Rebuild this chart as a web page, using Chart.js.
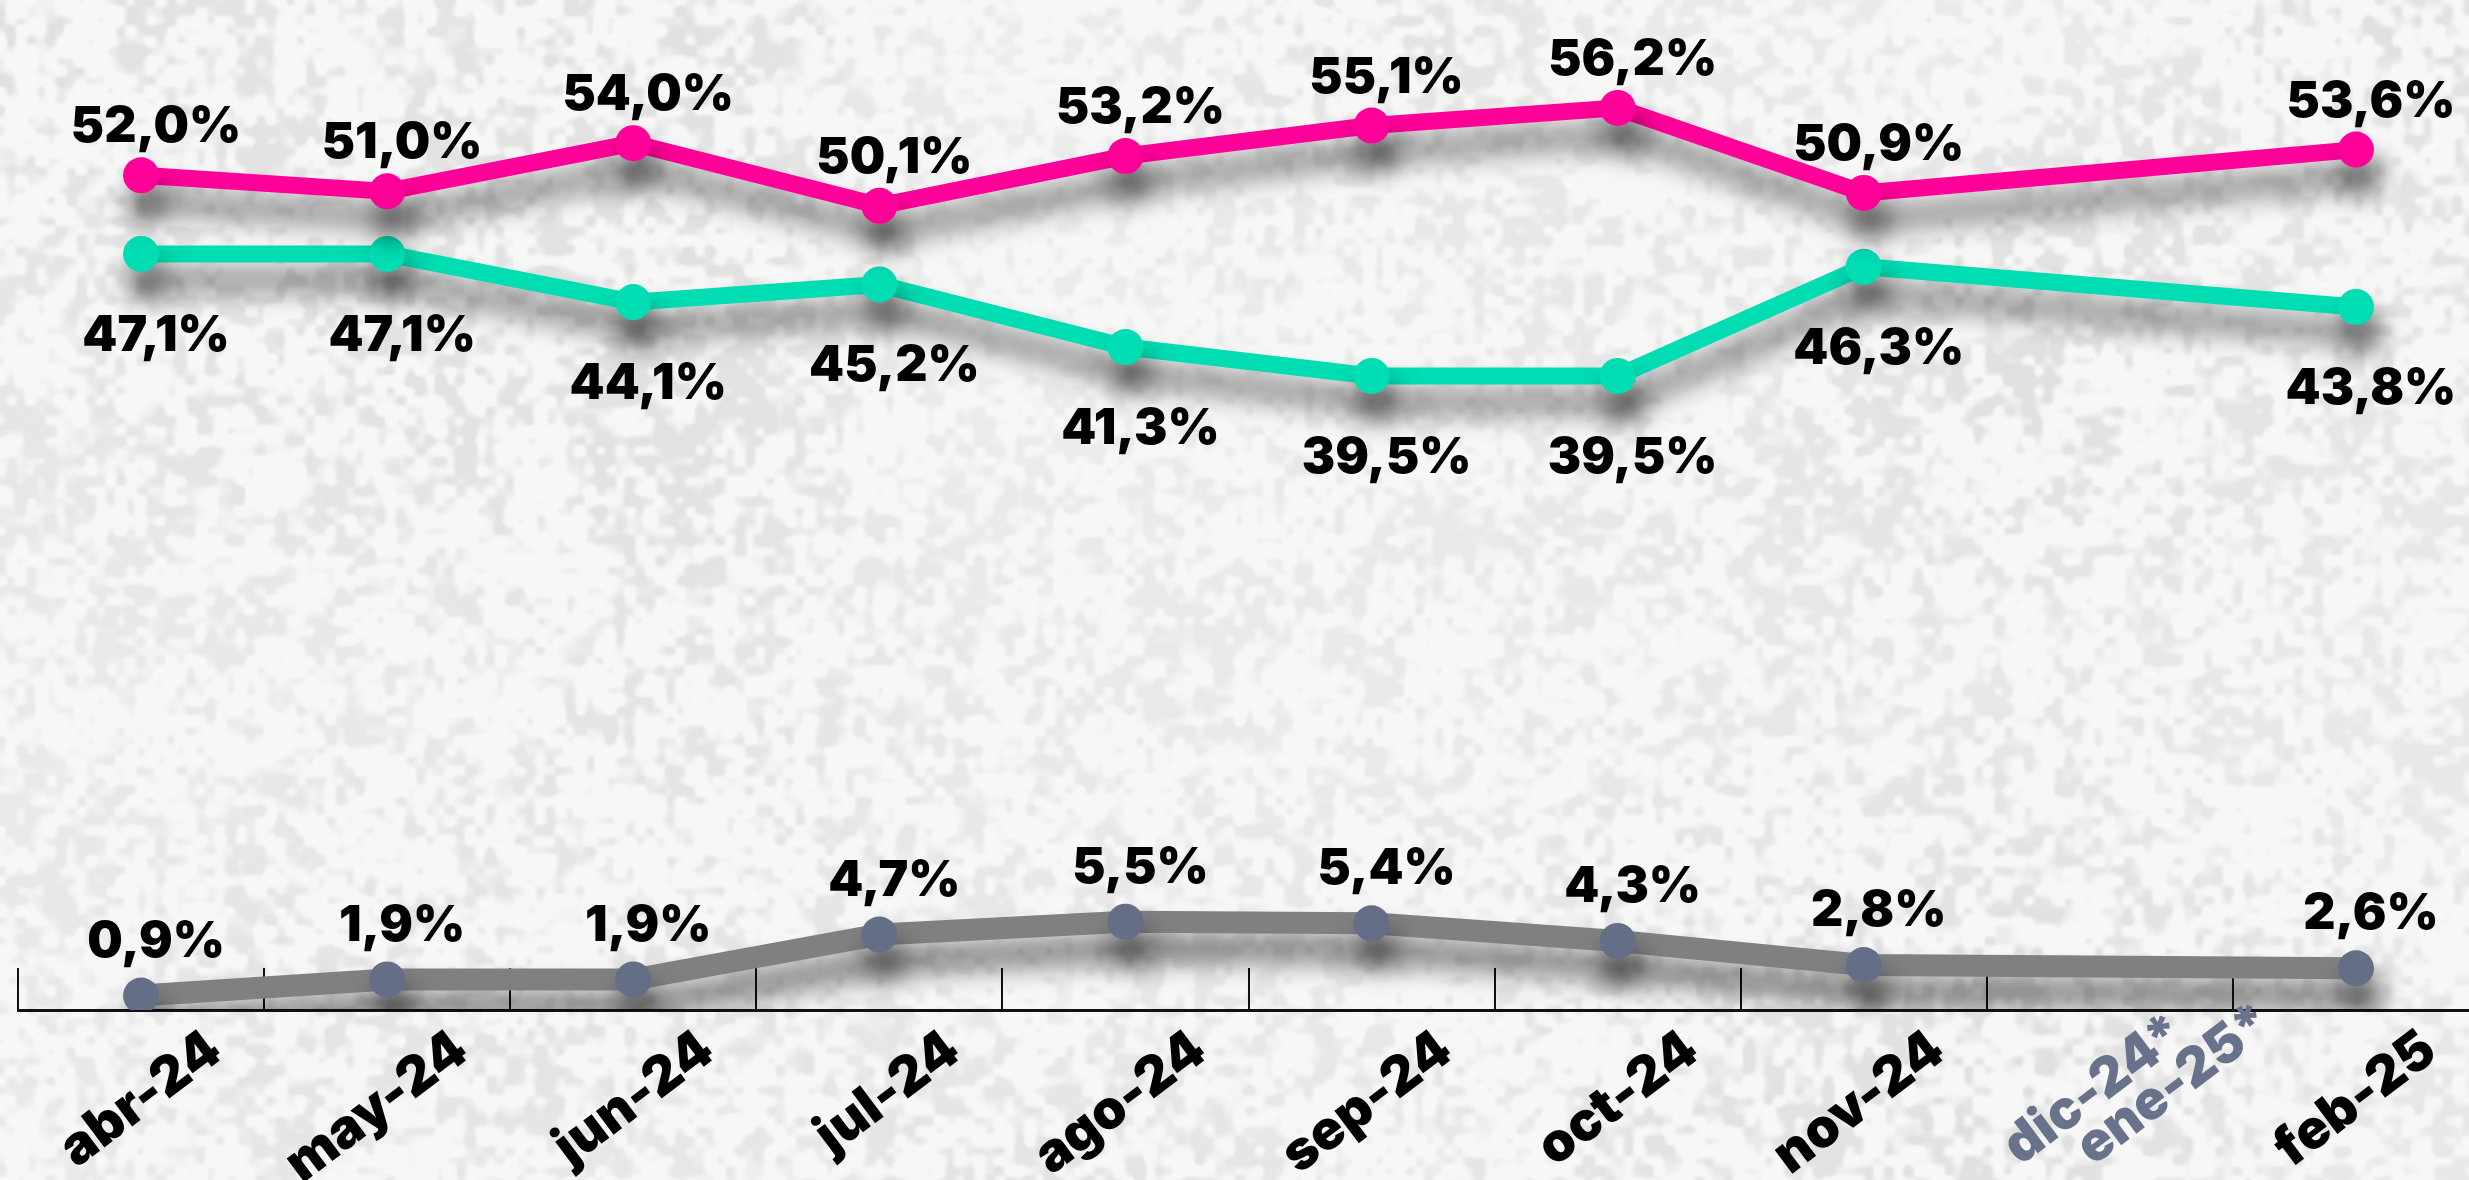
<!DOCTYPE html>
<html>
<head>
<meta charset="UTF-8">
<script src="https://cdn.jsdelivr.net/npm/chart.js@4.4.1/dist/chart.umd.min.js"></script>
<title>Tendencia</title>
<style>
	html, body { margin: 0; padding: 0; overflow: hidden; background: #ececec; }
	#lineChart { display: block; }
</style>
</head>
<body>
	<canvas id="lineChart" width="2497" height="1180"></canvas>
	<script>
		// datos
		var months = ['abr-24', 'may-24', 'jun-24', 'jul-24', 'ago-24', 'sep-24', 'oct-24', 'nov-24',
			['dic-24*', 'ene-25*'], 'feb-25'];
		var pinkData = [52.0, 51.0, 54.0, 50.1, 53.2, 55.1, 56.2, 50.9, null, 53.6];
		var tealData = [47.1, 47.1, 44.1, 45.2, 41.3, 39.5, 39.5, 46.3, null, 43.8];
		var grayData = [0.9, 1.9, 1.9, 4.7, 5.5, 5.4, 4.3, 2.8, null, 2.6];

		var labelFont = '900 50px Inter';
		var tickFont = { family: 'Inter', size: 54, weight: '900', lineHeight: 1.1 };
		var rotation = 37;

		// textura de fondo (ruido determinista)
		function hash(x, y, s) {
			var h = Math.imul(x, 374761393) + Math.imul(y, 668265263) + Math.imul(s, 982451653);
			h = Math.imul(h ^ (h >>> 13), 1274126177);
			h = h ^ (h >>> 16);
			return (h >>> 0) / 4294967296;
		}
		function noise(x, y, cell, s) {
			var gx = x / cell, gy = y / cell;
			var x0 = Math.floor(gx), y0 = Math.floor(gy);
			var fx = gx - x0, fy = gy - y0;
			fx = fx * fx * (3 - 2 * fx);
			fy = fy * fy * (3 - 2 * fy);
			var a = hash(x0, y0, s), b = hash(x0 + 1, y0, s);
			var c = hash(x0, y0 + 1, s), d = hash(x0 + 1, y0 + 1, s);
			var top = a + (b - a) * fx, bot = c + (d - c) * fx;
			return top + (bot - top) * fy;
		}
		function makeTexture(w, h) {
			var cv = document.createElement('canvas');
			cv.width = w; cv.height = h;
			var cx = cv.getContext('2d');
			var img = cx.createImageData(w, h);
			for (var y = 0; y < h; y++) {
				for (var x = 0; x < w; x++) {
					var m = 0.5 * noise(x, y, 5, 1) + 0.32 * noise(x, y, 13, 2) + 0.18 * noise(x, y, 45, 3);
					var big = noise(x, y, 170, 4);
					var t = Math.min(1, Math.max(0, (m - 0.46) / 0.2));
					var g = 247 - t * (11 + 14 * big);
					var k = (y * w + x) * 4;
					img.data[k] = img.data[k + 1] = img.data[k + 2] = g;
					img.data[k + 3] = 255;
				}
			}
			cx.putImageData(img, 0, 0);
			return cv;
		}
		var texture = makeTexture(1250, 590);

		var background = {
			id: 'background',
			beforeDraw: function(chart) {
				var ctx = chart.ctx;
				ctx.save();
				ctx.imageSmoothingEnabled = true;
				ctx.drawImage(texture, 0, 0, chart.width, chart.height);
				ctx.restore();
			}
		};

		// sombra de las líneas
		var dropShadow = {
			id: 'dropShadow',
			beforeDatasetDraw: function(chart) {
				var ctx = chart.ctx;
				ctx.save();
				ctx.shadowColor = 'rgba(0,0,0,0.6)';
				ctx.shadowBlur = 28;
				ctx.shadowOffsetX = 6;
				ctx.shadowOffsetY = 26;
			},
			afterDatasetDraw: function(chart) {
				chart.ctx.restore();
			}
		};

		// etiquetas de valores
		var valueLabels = {
			id: 'valueLabels',
			afterDatasetsDraw: function(chart) {
				var ctx = chart.ctx;
				chart.data.datasets.forEach(function(ds, i) {
					var meta = chart.getDatasetMeta(i);
					meta.data.forEach(function(pt, j) {
						var v = ds.data[j];
						if (v === null) return;
						ctx.save();
						ctx.font = labelFont;
						ctx.fillStyle = '#000';
						ctx.textAlign = 'center';
						ctx.textBaseline = 'middle';
						ctx.fillText(v.toFixed(1).replace('.', ',') + '%', pt.x + 15, pt.y + ds.labelShift);
						ctx.restore();
					});
				});
			}
		};

		// etiqueta doble dic/ene (desplazada como en el original)
		var doubleTick = {
			id: 'doubleTick',
			afterDraw: function(chart) {
				var scale = chart.scales.x;
				var ctx = chart.ctx;
				var o = scale.options;
				months.forEach(function(m, i) {
					if (!Array.isArray(m)) return;
					var x = scale.getPixelForTick(i) + o.ticks.labelOffset;
					var y = scale.top + o.grid.tickLength + o.ticks.padding;
					ctx.save();
					ctx.translate(x, y);
					ctx.rotate(-rotation * Math.PI / 180);
					ctx.font = tickFont.weight + ' ' + tickFont.size + 'px ' + tickFont.family;
					ctx.fillStyle = '#68728b';
					ctx.textAlign = 'right';
					ctx.textBaseline = 'middle';
					ctx.fillText(m[0], -8, 2);
					ctx.fillText(m[1], 68, 46);
					ctx.restore();
				});
			}
		};

		function drawChart() {
			var ctxL = document.getElementById('lineChart').getContext('2d');
			new Chart(ctxL, {
				type: 'line',
				data: {
					labels: months,
					datasets: [{
						label: 'rosa',
						data: pinkData,
						borderColor: '#ff0099',
						backgroundColor: '#ff0099',
						borderWidth: 17,
						pointRadius: 18,
						pointBorderWidth: 0,
						pointBackgroundColor: '#ff0099',
						labelShift: -48
					}, {
						label: 'verde',
						data: tealData,
						borderColor: '#00ddb3',
						backgroundColor: '#00ddb3',
						borderWidth: 17,
						pointRadius: 18,
						pointBorderWidth: 0,
						pointBackgroundColor: '#00ddb3',
						labelShift: 82
					}, {
						label: 'gris',
						data: grayData,
						borderColor: '#808080',
						backgroundColor: '#808080',
						borderWidth: 22,
						pointRadius: 18,
						pointBorderWidth: 0,
						pointBackgroundColor: '#646e87',
						labelShift: -54
					}]
				},
				options: {
					responsive: false,
					animation: false,
					spanGaps: true,
					layout: { padding: { left: 18, right: 0, top: 0, bottom: 0 } },
					elements: { line: { tension: 0, borderCapStyle: 'round', borderJoinStyle: 'round' } },
					plugins: {
						legend: { display: false },
						tooltip: { enabled: false }
					},
					scales: {
						x: {
							offset: true,
							grid: {
								display: true,
								offset: true,
								drawOnChartArea: false,
								drawTicks: true,
								tickLength: -42,
								color: '#111',
								lineWidth: 2
							},
							border: { display: true, color: '#111', width: 3 },
							ticks: {
								autoSkip: false,
								minRotation: rotation,
								maxRotation: rotation,
								labelOffset: 74,
								padding: 52,
								font: tickFont,
								color: function(c) { return Array.isArray(months[c.index]) ? 'rgba(0,0,0,0)' : '#000'; }
							},
							afterFit: function(scale) {
								scale.height = 170;
								scale.paddingLeft = 0;
								scale.paddingRight = 0;
							}
						},
						y: {
							display: false,
							min: 0,
							max: 61.8
						}
					}
				},
				plugins: [background, dropShadow, valueLabels, doubleTick]
			});
		}

		drawChart();
	</script>
</body>
</html>
